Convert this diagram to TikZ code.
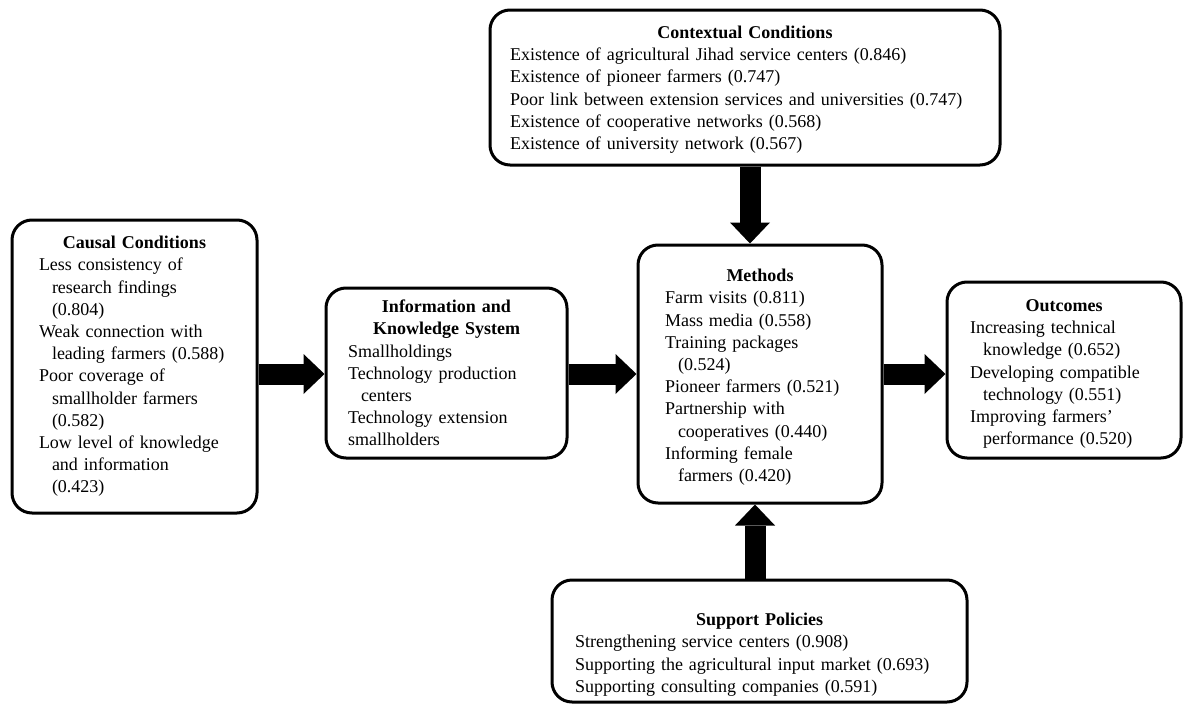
\documentclass[tikz,border=0pt]{standalone}
\usepackage{fontspec}
\setmainfont{Liberation Serif}
\usetikzlibrary{arrows.meta}
\tikzset{
  box/.style={draw=black, line width=3pt, rounded corners=20pt, fill=white,
    align=left, inner ysep=0pt, font=\fontsize{18}{22.2}\selectfont},
  bigarrow/.style={line width=21pt, draw=black,
    -{Triangle[width=40pt,length=21pt,line width=0pt]}}
}
\newcommand{\ttl}[1]{\makebox[\linewidth][c]{\textbf{#1}}}
\newcommand{\ind}{\hspace*{13pt}}
\begin{document}
\begin{tikzpicture}[x=1pt,y=-1pt]
\useasboundingbox (0,0) rectangle (1184,704);

\node[box, minimum width=510pt, minimum height=155pt, inner xsep=20pt, text width=470pt] (ctx) at (745,87.5) {%
\ttl{\rule{0pt}{17pt}Contextual Conditions}\\
\mbox{Existence of agricultural Jihad service centers (0.846)}\\
\mbox{Existence of pioneer farmers (0.747)}\\
\mbox{Poor link between extension services and universities (0.747)}\\
\mbox{Existence of cooperative networks (0.568)}\\
\mbox{Existence of university network (0.567)}};

\node[box, minimum width=245pt, minimum height=293pt, inner xsep=27pt, text width=191pt] (cau) at (134.5,366.5) {%
\ttl{Causal Conditions}\\
\mbox{Less consistency of}\\
\mbox{\ind research findings}\\
\mbox{\ind (0.804)}\\
\mbox{Weak connection with}\\
\mbox{\ind leading farmers (0.588)}\\
\mbox{Poor coverage of}\\
\mbox{\ind smallholder farmers}\\
\mbox{\ind (0.582)}\\
\mbox{Low level of knowledge}\\
\mbox{\ind and information}\\
\mbox{\ind (0.423)}};

\node[box, minimum width=241pt, minimum height=170pt, inner xsep=22pt, text width=197pt] (inf) at (446.5,373) {%
\ttl{Information and}\\
\ttl{Knowledge System}\\
\mbox{Smallholdings}\\
\mbox{Technology production}\\
\mbox{\ind centers}\\
\mbox{Technology extension}\\
\mbox{smallholders}};

\node[box, minimum width=244pt, minimum height=258pt, inner xsep=27pt, text width=190pt] (met) at (760,374) {%
\ttl{\rule{0pt}{19pt}Methods}\\
\mbox{Farm visits (0.811)}\\
\mbox{Mass media (0.558)}\\
\mbox{Training packages}\\
\mbox{\ind (0.524)}\\
\mbox{Pioneer farmers (0.521)}\\
\mbox{Partnership with}\\
\mbox{\ind cooperatives (0.440)}\\
\mbox{Informing female}\\
\mbox{\ind farmers (0.420)}};

\node[box, minimum width=234pt, minimum height=176pt, inner xsep=23pt, text width=188pt] (out) at (1064,370) {%
\ttl{\rule{0pt}{20pt}Outcomes}\\
\mbox{Increasing technical}\\
\mbox{\ind knowledge (0.652)}\\
\mbox{Developing compatible}\\
\mbox{\ind technology (0.551)}\\
\mbox{Improving farmers'}\\
\mbox{\ind performance (0.520)}};

\node[box, minimum width=415pt, minimum height=122pt, inner xsep=23pt, text width=369pt] (sup) at (759.5,641) {%
\ttl{\rule{0pt}{40pt}Support Policies}\\
\mbox{Strengthening service centers (0.908)}\\
\mbox{Supporting the agricultural input market (0.693)}\\
\mbox{Supporting consulting companies (0.591)}};

\coordinate (lvl) at (0,374);
\coordinate (xt) at (750,0);
\coordinate (xb) at (755,0);

\draw[bigarrow] (cau.east |- lvl) -- (inf.west |- lvl);
\draw[bigarrow] (inf.east |- lvl) -- (met.west |- lvl);
\draw[bigarrow] (met.east |- lvl) -- (out.west |- lvl);
\draw[bigarrow] (ctx.south -| xt) -- (met.north -| xt);
\draw[bigarrow] (sup.north -| xb) -- (met.south -| xb);
\end{tikzpicture}
\end{document}
